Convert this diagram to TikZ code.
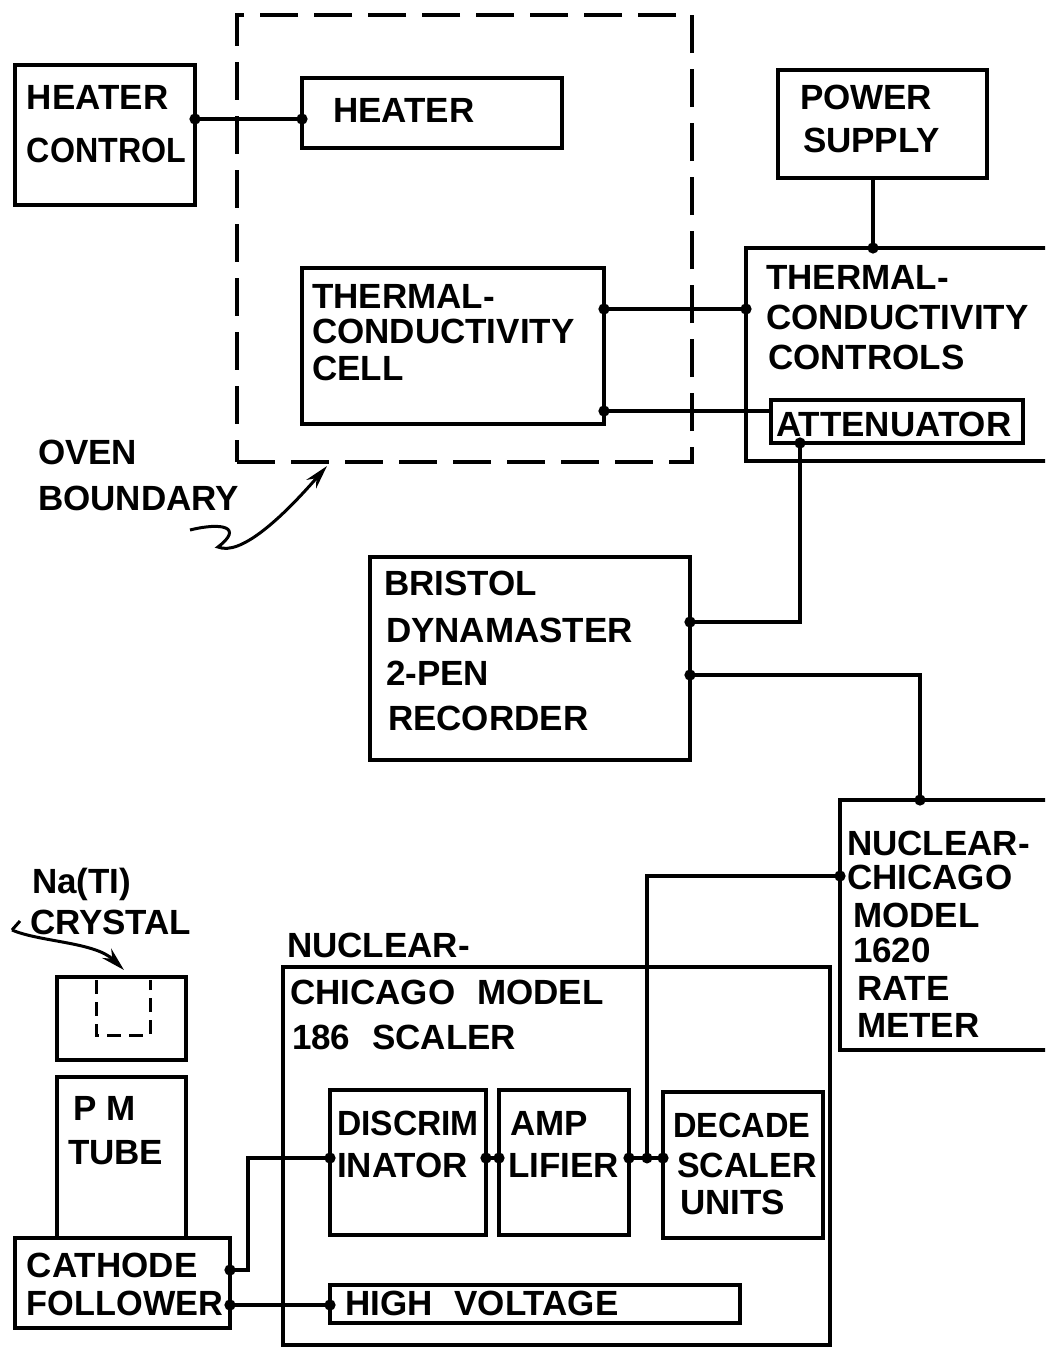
\documentclass[tikz,border=0pt]{standalone}
\usepackage{fontspec}
\setmainfont{Liberation Sans}
\usetikzlibrary{arrows.meta}
\newcommand\mybox[6][box]{\node[#1, minimum width={#5pt-#3pt}, minimum height={#6pt-#4pt}] (#2) at (#3,#4) {};}
\newcommand\lbl[5][1]{\node[txt] (#2) at (#3,#4) {\scalebox{#1}[1]{#5}};}
\newcommand\wsp{\hspace*{22pt}}
\begin{document}
\begin{tikzpicture}[x=1pt,y=-1pt,
  box/.style={draw, line width=3.3pt, inner sep=0pt, outer sep=0pt, anchor=north west},
  ovenbox/.style={box, line width=3.3pt, dash pattern=on 38pt off 16pt},
  txt/.style={anchor=west, inner sep=0pt, outer sep=0pt, font=\fontsize{35}{35}\selectfont\bfseries},
  conn/.style={line width=3.3pt},
  dots/.style={{Circle[length=11pt]}-{Circle[length=11pt]}, shorten <=-5.5pt, shorten >=-5.5pt},
  enddot/.style={-{Circle[length=11pt]}, shorten >=-5.5pt},
  startdot/.style={{Circle[length=11pt]}-, shorten <=-5.5pt},
  pointer/.style={line width=3pt, -{Stealth[length=24pt,width=13pt]}}]
\useasboundingbox (0,0) rectangle (1045,1347);
\clip (0,0) rectangle (1045,1347);
\fill[white] (0,0) rectangle (1045,1347);

% boxes
\mybox{hc}{15}{65}{195}{205}
\mybox{heater}{302}{78}{562}{148}
\mybox[ovenbox]{oven}{237}{15}{692}{462}
\mybox{tcc}{302}{268}{604}{424}
\mybox{ps}{778}{70}{987}{178}
\mybox{tcctl}{746}{248}{1060}{461}
\mybox{att}{771}{400}{1023}{443}
\mybox{bristol}{370}{557}{690}{760}
\mybox{rate}{840}{800}{1060}{1050}
\mybox{scaler}{283}{967}{830}{1345}
\mybox{disc}{330}{1090}{486}{1235}
\mybox{amp}{499}{1090}{629}{1235}
\mybox{dec}{663}{1092}{823}{1238}
\mybox{hv}{330}{1285}{740}{1323}
\mybox{cf}{15}{1238}{230}{1328}
\mybox{pm}{57}{1077}{186}{1238}
\mybox{cry}{57}{977}{186}{1060}

% crystal (dashed, inside)
\draw[line width=3pt, dash pattern=on 14pt off 8pt] (96,980) -- (96,1035) -- (150,1035) -- (150,980);

% texts
\lbl{t1}{27}{97}{HEATER}
\lbl[0.92]{t2}{27}{150}{CONTROL}
\lbl{t3}{333}{110}{HEATER}
\lbl{t4}{312}{296}{THERMAL-}
\lbl{t5}{312}{331}{CONDUCTIVITY}
\lbl{t6}{312}{368}{CELL}
\lbl{t7}{800}{97}{POWER}
\lbl{t8}{803}{140}{SUPPLY}
\lbl{t9}{766}{277}{THERMAL-}
\lbl{t10}{766}{317}{CONDUCTIVITY}
\lbl{t11}{768}{357}{CONTROLS}
\lbl{t12}{776}{424}{ATTENUATOR}
\lbl{t13}{384}{583}{BRISTOL}
\lbl{t14}{386}{630}{DYNAMASTER}
\lbl{t15}{386}{673}{2-PEN}
\lbl{t16}{388}{718}{RECORDER}
\lbl{t17}{847}{843}{NUCLEAR-}
\lbl{t18}{847}{877}{CHICAGO}
\lbl{t19}{853}{915}{MODEL}
\lbl{t20}{853}{950}{1620}
\lbl{t21}{857}{988}{RATE}
\lbl{t22}{857}{1025}{METER}
\lbl{t23}{287}{945}{NUCLEAR-}
\lbl{t24}{290}{992}{CHICAGO\wsp MODEL}
\lbl{t25}{292}{1037}{186\wsp SCALER}
\lbl[0.96]{t26}{337}{1123}{DISCRIM}
\lbl{t27}{337}{1165}{INATOR}
\lbl{t28}{510}{1123}{AMP}
\lbl{t29}{508}{1165}{LIFIER}
\lbl[0.93]{t30}{673}{1125}{DECADE}
\lbl[0.97]{t31}{677}{1165}{SCALER}
\lbl{t32}{680}{1202}{UNITS}
\lbl{t33}{345}{1303}{HIGH\wsp VOLTAGE}
\lbl{t34}{27}{1265}{CATHODE}
\lbl[0.98]{t35}{27}{1303}{FOLLOWER}
\lbl{t36}{73}{1108}{P\ M}
\lbl{t37}{68}{1153}{TUBE}
\lbl{t38}{32}{884}{Na(TI)}
\lbl{t39}{30}{922}{CRYSTAL}
\lbl{t40}{38}{452}{OVEN}
\lbl{t41}{38}{498}{BOUNDARY}

% connectors
\draw[conn, dots] (hc.east |- 0,119) -- (heater.west |- 0,119);
\draw[conn, dots] (tcc.east |- 0,309) -- (tcctl.west |- 0,309);
\draw[conn, startdot] (tcc.east |- 0,411) -- (att.west |- 0,411);
\draw[conn, enddot] (873,0 |- ps.south) -- (873,0 |- tcctl.north);
\draw[conn, dots] (800,0 |- att.south) -- (800,622) -- (bristol.east |- 0,622);
\draw[conn, dots] (bristol.east |- 0,675) -- (920,675) -- (920,0 |- rate.north);
\coordinate (jn) at (647,1158);
\draw[conn, startdot] (rate.west |- 0,876) -| (jn);
\fill (jn) circle (5.5pt);
\draw[conn, dots] (amp.east |- 0,1158) -- (dec.west |- 0,1158);
\draw[conn, dots] (disc.east |- 0,1158) -- (amp.west |- 0,1158);
\draw[conn, dots] (cf.east |- 0,1270) -- (248,1270) -- (248,1158) -- (disc.west |- 0,1158);
\draw[conn, dots] (cf.east |- 0,1305) -- (hv.west |- 0,1305);

% pointers
\draw[pointer] (190,530) .. controls (222,522) and (244,527) .. (218,547)
   .. controls (240,556) and (280,520) .. (327,466);
\draw[line width=3pt] (20,921) -- (12,930);
\draw[pointer] (12,930) .. controls (40,942) and (95,942) .. (124,970);
\end{tikzpicture}
\end{document}
